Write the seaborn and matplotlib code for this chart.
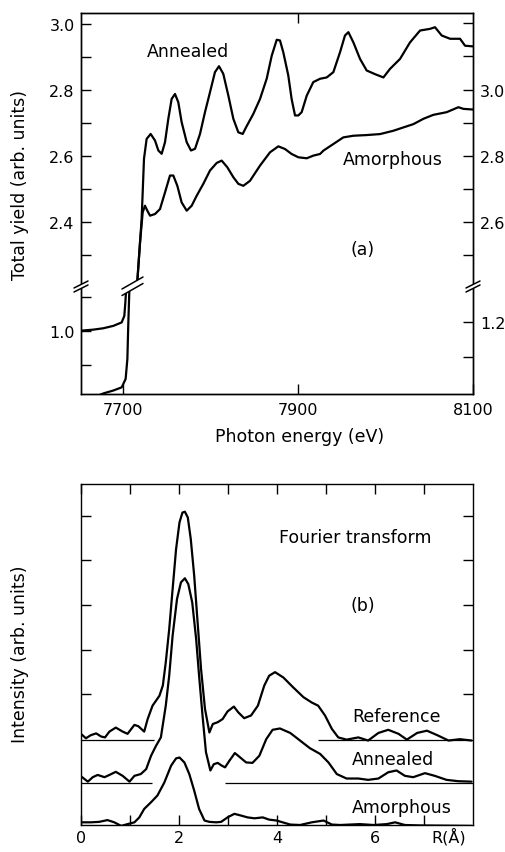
import matplotlib
matplotlib.use("Agg")
import matplotlib.pyplot as plt
import pandas as pd
import seaborn as sns
from matplotlib.lines import Line2D
from matplotlib.patches import Polygon

# ---------------- Panel (a): total yield vs photon energy ----------------
# Annealed (left axis): pre-edge part (lower broken segment) then above-edge part
ann_a_energy = [7652, 7666, 7677.5, 7689, 7698.5, 7701.5, 7702.7, 7703.4, 7704,
                7716.4, 7721.3, 7724.0, 7727.0, 7731.6, 7736.6, 7740.4, 7744.2, 7748.0,
                7751.8, 7755.6, 7759.4, 7763.2, 7767.0, 7772.8, 7777.7, 7782.3, 7788.0,
                7793.7, 7799.4, 7805.1, 7809.7, 7814.6, 7820.4, 7826.1, 7831.8, 7836.8,
                7840.6, 7849.0, 7856.6, 7864.2, 7870.0, 7875.7, 7879.4, 7883.2, 7888.9,
                7892.7, 7896.6, 7900.4, 7904.2, 7910.0, 7917.5, 7925.2, 7932.8, 7940.4,
                7948.0, 7953.7, 7957.6, 7963.3, 7970.9, 7978.5, 7988.0, 7997.6, 8005.2,
                8016.6, 8028.0, 8039.5, 8050.9, 8056.6, 8064.2, 8073.8, 8085.2, 8090.9,
                8100]
ann_a_yield = [1.001, 1.004, 1.008, 1.015, 1.025, 1.044, 1.083, 1.113, 1.14,
               2.222, 2.410, 2.592, 2.652, 2.667, 2.647, 2.617, 2.607, 2.642,
               2.713, 2.773, 2.788, 2.763, 2.703, 2.642, 2.617, 2.622, 2.667,
               2.733, 2.793, 2.854, 2.872, 2.849, 2.783, 2.713, 2.672, 2.667,
               2.687, 2.728, 2.773, 2.834, 2.904, 2.952, 2.950, 2.914, 2.844,
               2.773, 2.723, 2.723, 2.733, 2.783, 2.824, 2.834, 2.838, 2.854,
               2.914, 2.965, 2.975, 2.944, 2.894, 2.859, 2.848, 2.838, 2.864,
               2.894, 2.944, 2.980, 2.985, 2.990, 2.965, 2.955, 2.955, 2.934,
               2.932]

# Amorphous (right axis)
amo_a_energy = [7652, 7676, 7678, 7689, 7698.5, 7703, 7705, 7706, 7707.5,
                7716.4, 7719.5, 7722.5, 7725.1, 7727.8, 7730.9, 7736.6, 7742.3, 7748.0,
                7753.7, 7757.5, 7762.1, 7767.0, 7772.8, 7778.5, 7784.2, 7791.8, 7799.4,
                7807.1, 7812.8, 7819.2, 7826.1, 7831.8, 7837.5, 7845.1, 7856.6, 7868.0,
                7877.5, 7885.1, 7892.7, 7900.4, 7910.0, 7917.5, 7925.2, 7929.0, 7940.4,
                7951.8, 7963.3, 7978.5, 7993.8, 8009.0, 8020.4, 8031.9, 8043.3, 8054.7,
                8069.9, 8083.3, 8089.0, 8100]
amo_a_yield = [0.97, 0.994, 0.996, 1.004, 1.013, 1.037, 1.094, 1.19, 1.31,
               2.424, 2.540, 2.630, 2.650, 2.635, 2.620, 2.625, 2.640, 2.690,
               2.741, 2.741, 2.710, 2.660, 2.635, 2.650, 2.680, 2.716, 2.756,
               2.779, 2.786, 2.766, 2.736, 2.716, 2.710, 2.725, 2.771, 2.811,
               2.829, 2.821, 2.806, 2.796, 2.793, 2.801, 2.806, 2.816, 2.836,
               2.856, 2.861, 2.863, 2.866, 2.876, 2.886, 2.896, 2.912, 2.924,
               2.932, 2.947, 2.942, 2.940]

# ---------------- Panel (b): Fourier transforms ----------------
ref_r = [0.00, 0.10, 0.20, 0.31, 0.41, 0.49, 0.58, 0.71, 0.85, 0.95, 1.09, 1.17,
         1.29, 1.36, 1.46, 1.60, 1.67, 1.73, 1.80, 1.87, 1.94, 2.01, 2.07, 2.12,
         2.18, 2.24, 2.31, 2.38, 2.45, 2.53, 2.62, 2.69, 2.79, 2.89, 2.99, 3.12,
         3.21, 3.33, 3.47, 3.61, 3.74, 3.84, 3.96, 4.13, 4.33, 4.54, 4.71, 4.84,
         4.98, 5.12, 5.25, 5.42, 5.66, 5.86, 6.07, 6.27, 6.48, 6.65, 6.86, 7.06,
         7.27, 7.50, 7.73, 7.97]
ref_i = [2.04, 1.94, 2.01, 2.05, 1.98, 1.96, 2.09, 2.18, 2.09, 2.04, 2.24, 2.21,
         2.09, 2.37, 2.67, 2.89, 3.12, 3.64, 4.38, 5.28, 6.17, 6.77, 6.99, 7.01,
         6.88, 6.40, 5.58, 4.53, 3.49, 2.60, 2.07, 2.26, 2.30, 2.37, 2.54, 2.65,
         2.52, 2.39, 2.45, 2.67, 3.12, 3.34, 3.42, 3.30, 3.08, 2.86, 2.74, 2.67,
         2.45, 2.15, 1.96, 1.91, 1.96, 1.89, 2.06, 2.13, 2.04, 1.91, 2.06, 2.11,
         2.01, 1.89, 1.92, 1.89]

ann_r = [0.00, 0.14, 0.24, 0.34, 0.48, 0.58, 0.71, 0.85, 0.99, 1.09, 1.22, 1.33,
         1.43, 1.53, 1.63, 1.73, 1.80, 1.87, 1.96, 2.04, 2.12, 2.19, 2.27, 2.35,
         2.41, 2.48, 2.55, 2.64, 2.71, 2.79, 2.87, 2.94, 3.03, 3.14, 3.25, 3.37,
         3.50, 3.64, 3.78, 3.91, 4.06, 4.27, 4.47, 4.67, 4.88, 5.05, 5.22, 5.42,
         5.66, 5.86, 6.07, 6.27, 6.44, 6.61, 6.78, 7.02, 7.22, 7.46, 7.70, 7.97]
ann_i = [1.09, 0.97, 1.07, 1.12, 1.07, 1.12, 1.19, 1.10, 0.97, 1.10, 1.14, 1.25,
         1.55, 1.77, 1.96, 2.67, 3.34, 4.24, 5.06, 5.43, 5.52, 5.39, 4.98, 4.16,
         3.34, 2.45, 1.63, 1.22, 1.36, 1.39, 1.33, 1.29, 1.44, 1.61, 1.51, 1.40,
         1.39, 1.55, 1.92, 2.13, 2.16, 2.06, 1.89, 1.72, 1.59, 1.40, 1.14, 1.04,
         1.04, 1.01, 1.04, 1.18, 1.22, 1.10, 1.07, 1.16, 1.10, 1.01, 0.98, 0.97]

amo_r = [0.00, 0.20, 0.37, 0.54, 0.68, 0.82, 0.95, 1.09, 1.19, 1.29, 1.43, 1.56,
         1.70, 1.84, 1.94, 2.01, 2.11, 2.21, 2.31, 2.41, 2.52, 2.62, 2.76, 2.86,
         2.99, 3.13, 3.27, 3.40, 3.54, 3.71, 3.84, 3.99, 4.27, 4.47, 4.71, 4.95,
         5.12, 5.29, 5.49, 5.69, 5.97, 6.24, 6.41, 6.61, 6.92, 7.97]
amo_i = [0.06, 0.06, 0.07, 0.11, 0.06, -0.02, 0.02, 0.06, 0.17, 0.36, 0.51, 0.66,
         0.95, 1.33, 1.49, 1.51, 1.40, 1.14, 0.77, 0.36, 0.10, 0.07, 0.06, 0.07,
         0.17, 0.25, 0.21, 0.17, 0.15, 0.17, 0.12, 0.10, 0.01, 0.00, 0.06, 0.10,
         0.01, 0.00, 0.01, 0.02, 0.00, 0.02, 0.06, 0.00, -0.01, -0.02]

# zero lines (level, start, end)
base_levels = [1.91, 1.91, 0.95, 0.95]
base_start = [0.0, 4.84, 0.0, 2.94]
base_end = [1.49, 8.0, 1.44, 8.0]

# ---------------- styling ----------------
sns.set_theme(style="ticks")
plt.rcParams['font.family'] = ['DejaVu Sans']
plt.rcParams.update({
    'axes.linewidth': 1.0,
    'text.color': 'black',
    'axes.labelcolor': 'black',
    'xtick.color': 'black',
    'ytick.color': 'black',
    'axes.edgecolor': 'black',
})

W, H = 505, 853
fig = plt.figure(figsize=(W / 100, H / 100), dpi=100)
fig.patch.set_facecolor("white")


def rect(l, t, r, b):
    return [l / W, 1 - b / H, (r - l) / W, (b - t) / H]


def fpt(px, py):
    return (px / W, 1 - py / H)


FS_TICK = 11.5
FS_TXT = 12.5
LW = 1.6
TL = 7.5

ax_up = fig.add_axes(rect(81, 14, 473, 285))
ax_lo = fig.add_axes(rect(81, 289, 473, 395))
ax_up_r = ax_up.twinx()
ax_lo_r = ax_lo.twinx()
ax_b = fig.add_axes(rect(81, 485, 473, 826))

df_ann = pd.DataFrame({"E": ann_a_energy, "Y": ann_a_yield})
df_amo = pd.DataFrame({"E": amo_a_energy, "Y": amo_a_yield})

for ax in (ax_up, ax_lo):
    sns.lineplot(data=df_ann, x="E", y="Y", ax=ax, color="black", lw=LW,
                 estimator=None, sort=False, legend=False)
for ax in (ax_up_r, ax_lo_r):
    sns.lineplot(data=df_amo, x="E", y="Y", ax=ax, color="black", lw=LW,
                 estimator=None, sort=False, legend=False)

xlim = (7652, 8100)
for ax in (ax_up, ax_lo, ax_up_r, ax_lo_r):
    ax.set_xlim(*xlim)
    ax.set_xlabel("")
    ax.set_ylabel("")
    ax.set_facecolor("none")
    for s in ax.spines.values():
        s.set_linewidth(1.0)
        s.set_color("black")

ax_up.set_ylim(2.213, 3.033)
ax_up_r.set_ylim(2.414, 3.231)
ax_lo.set_ylim(0.817, 1.125)
ax_lo_r.set_ylim(0.994, 1.297)

# spines of the broken axis
for ax in (ax_up, ax_up_r):
    ax.spines['bottom'].set_visible(False)
for ax in (ax_lo, ax_lo_r):
    ax.spines['top'].set_visible(False)

# ticks
ax_up.set_yticks([2.4, 2.6, 2.8, 3.0], ["2.4", "2.6", "2.8", "3.0"])
ax_up.set_yticks([2.3, 2.5, 2.7, 2.9], minor=True)
ax_up_r.set_yticks([2.6, 2.8, 3.0], ["2.6", "2.8", "3.0"])
ax_up_r.set_yticks([2.5, 2.7, 2.9, 3.1, 3.2], minor=True)
ax_lo.set_yticks([1.0], ["1.0"])
ax_lo.set_yticks([0.9, 1.1], minor=True)
ax_lo_r.set_yticks([1.2], ["1.2"])
ax_lo_r.set_yticks([1.1], minor=True)

ax_up.set_xticks([7900])
ax_up.tick_params(axis='x', which='both', bottom=False, top=True, labelbottom=False,
                  labeltop=False, direction='in', length=TL, width=1.0, color='black')
ax_lo.set_xticks([7700, 7900, 8100], ["7700", "7900", "8100"])
ax_lo.tick_params(axis='x', which='both', bottom=True, top=False, direction='in',
                  length=TL, width=1.0, color='black', labelsize=FS_TICK, pad=6)
for ax in (ax_up, ax_lo):
    ax.tick_params(axis='y', which='both', left=True, right=False, direction='in',
                   length=TL, width=1.0, color='black', labelsize=FS_TICK, pad=4.5)
for ax in (ax_up_r, ax_lo_r):
    ax.tick_params(axis='y', which='both', left=False, right=True, labelleft=False,
                   labelright=True, direction='in', length=TL, width=1.0,
                   color='black', labelsize=FS_TICK, pad=5)

ax_up.text(0.273, 0.860, "Annealed", transform=ax_up.transAxes, ha='center',
           va='center', fontsize=FS_TXT)
ax_up.text(0.796, 0.461, "Amorphous", transform=ax_up.transAxes, ha='center',
           va='center', fontsize=FS_TXT)
ax_up.text(0.719, 0.129, "(a)", transform=ax_up.transAxes, ha='center',
           va='center', fontsize=FS_TXT)

fig.text(*fpt(300, 437), "Photon energy (eV)", ha='center', va='center', fontsize=FS_TXT)
fig.text(*fpt(20, 185), "Total yield (arb. units)", ha='center', va='center',
         rotation=90, fontsize=FS_TXT)


# break marks (decoration, figure pixel coords)
def slash_pair(a1, a2, b1, b2, fill=True):
    if fill:
        poly = Polygon([fpt(*a1), fpt(*a2), fpt(*b2), fpt(*b1)], closed=True,
                       transform=fig.transFigure, facecolor='white',
                       edgecolor='none', zorder=5)
        fig.add_artist(poly)
    for p, q in ((a1, a2), (b1, b2)):
        fig.add_artist(Line2D([fpt(*p)[0], fpt(*q)[0]], [fpt(*p)[1], fpt(*q)[1]],
                              transform=fig.transFigure, color='black', lw=1.1,
                              zorder=6))


slash_pair((74, 289), (88, 282), (74, 293), (88, 286))
slash_pair((466, 289), (480, 282), (466, 293), (480, 286))
slash_pair((122, 290), (143, 278), (122, 296.5), (143, 284.5))

# ---------------- Panel (b) ----------------
df_ref = pd.DataFrame({"R": ref_r, "I": ref_i})
df_annb = pd.DataFrame({"R": ann_r, "I": ann_i})
df_amob = pd.DataFrame({"R": amo_r, "I": amo_i})
for d in (df_ref, df_annb, df_amob):
    sns.lineplot(data=d, x="R", y="I", ax=ax_b, color="black", lw=LW,
                 estimator=None, sort=False, legend=False)
ax_b.hlines(base_levels, base_start, base_end, color="black", lw=0.9)

ax_b.set_xlim(0, 8)
ax_b.set_ylim(0, 7.63)
ax_b.set_xlabel("")
ax_b.set_ylabel("")
for s in ax_b.spines.values():
    s.set_visible(True)
    s.set_linewidth(1.0)
    s.set_color("black")
ax_b.set_xticks([0, 1, 2, 3, 4, 5, 6, 7], ["0", "", "2", "", "4", "", "6", ""])
ax_b.set_yticks([2.92, 3.92, 4.92, 5.92, 6.92], [])
ax_b.tick_params(axis='both', which='both', direction='in', length=TL, width=1.0,
                 color='black', top=True, right=True, labelsize=FS_TICK, pad=3.5)
ax_b.text(7.5, -0.032, "R(Å)", transform=ax_b.get_xaxis_transform(), ha='center',
          va='center', fontsize=FS_TICK)

ax_b.text(0.699, 0.845, "Fourier transform", transform=ax_b.transAxes, ha='center',
          va='center', fontsize=FS_TXT)
ax_b.text(0.719, 0.645, "(b)", transform=ax_b.transAxes, ha='center',
          va='center', fontsize=FS_TXT)
ax_b.text(0.806, 0.320, "Reference", transform=ax_b.transAxes, ha='center',
          va='center', fontsize=FS_TXT)
ax_b.text(0.796, 0.194, "Annealed", transform=ax_b.transAxes, ha='center',
          va='center', fontsize=FS_TXT)
ax_b.text(0.819, 0.053, "Amorphous", transform=ax_b.transAxes, ha='center',
          va='center', fontsize=FS_TXT)
fig.text(*fpt(20, 654), "Intensity (arb. units)", ha='center', va='center',
         rotation=90, fontsize=FS_TXT)

fig.savefig("out.png", dpi=100, facecolor="white")
